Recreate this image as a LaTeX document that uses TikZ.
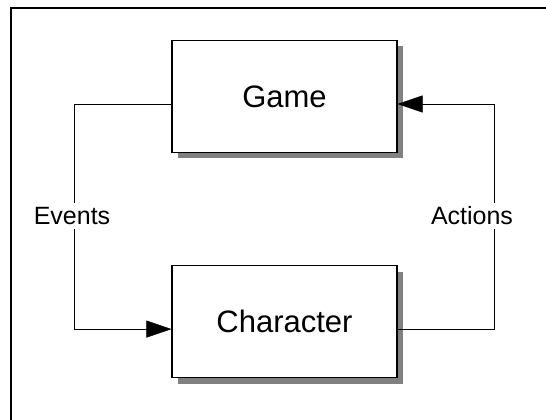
\documentclass[tikz,border=0pt]{standalone}
\usepackage{fontspec}
\setmainfont{Liberation Sans}
\usetikzlibrary{arrows.meta,positioning,shadows}

\begin{document}
\begin{tikzpicture}[x=1pt,y=1pt,>={Triangle[length=25pt,width=17pt]},thin,
    block/.style={draw,line width=1.1pt,fill=white,minimum width=225pt,minimum height=112pt,
      font=\fontsize{31}{36}\selectfont,
      drop shadow={shadow xshift=6pt,shadow yshift=-6pt,fill=black!50,opacity=1}},
    flowlabel/.style={fill=white,inner sep=4pt,font=\fontsize{25}{30}\selectfont}]

      \useasboundingbox (0,0) rectangle (546,420);
      \draw[line width=1.2pt] (11,0) -- (11,412) -- (546,412);

      \node[block] (game) at (284.5,323.5) {Game};
      \node[block] (character) [below=112pt of game] {Character};

      % loop: game events go down to the character, its actions come back up
      \draw[->] ([yshift=-7.5pt]game.west) -- ++(-97,0) |- ([yshift=-7.5pt]character.west);
      \draw[->] ([yshift=-7.5pt]character.east) -- ++(97,0) |- ([yshift=-7.5pt]game.east);

      \node[flowlabel] (events) at (72,204) {Events};
      \node[flowlabel] (actions) at (472,204) {Actions};

    \end{tikzpicture}
\end{document}
